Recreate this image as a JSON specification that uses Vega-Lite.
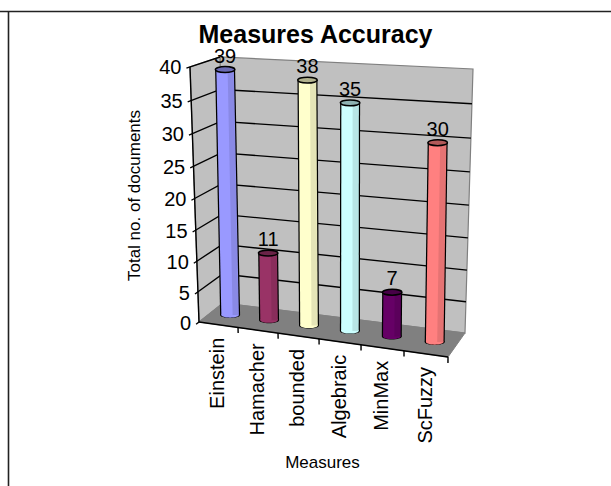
{
"$schema":"https://vega.github.io/schema/vega-lite/v6.json",
"width":611,"height":486,"padding":0,"autosize":{"type":"none"},"background":"white",
"config":{"view":{"stroke":null},"font":"Liberation Sans"},
"title":{"text":"Measures Accuracy","font":"Liberation Sans","fontSize":25,"fontWeight":"bold","color":"black","anchor":"middle","frame":"group","offset":-48,"dx":10},
"data":{"values":[
{"part":"bar","measure":"Einstein","value":39,"slot":0.5,"depth":0.5},
{"part":"bar","measure":"Hamacher","value":11,"slot":1.5,"depth":0.5},
{"part":"bar","measure":"bounded","value":38,"slot":2.5,"depth":0.5},
{"part":"bar","measure":"Algebraic","value":35,"slot":3.5,"depth":0.5},
{"part":"bar","measure":"MinMax","value":7,"slot":4.5,"depth":0.5},
{"part":"bar","measure":"ScFuzzy","value":30,"slot":5.5,"depth":0.5},
{"part":"category","measure":"Einstein","value":0,"slot":0.5,"depth":0},
{"part":"category","measure":"Hamacher","value":0,"slot":1.5,"depth":0},
{"part":"category","measure":"bounded","value":0,"slot":2.5,"depth":0},
{"part":"category","measure":"Algebraic","value":0,"slot":3.5,"depth":0},
{"part":"category","measure":"MinMax","value":0,"slot":4.5,"depth":0},
{"part":"category","measure":"ScFuzzy","value":0,"slot":5.5,"depth":0},
{"part":"back","seq":0,"slot":0,"value":0,"depth":1},{"part":"back","seq":1,"slot":6,"value":0,"depth":1},{"part":"back","seq":2,"slot":6,"value":40,"depth":1},{"part":"back","seq":3,"slot":0,"value":40,"depth":1},{"part":"back","seq":4,"slot":0,"value":0,"depth":1},
{"part":"side","seq":0,"slot":0,"value":0,"depth":1},{"part":"side","seq":1,"slot":0,"value":40,"depth":1},{"part":"side","seq":2,"slot":0,"value":40,"depth":0},{"part":"side","seq":3,"slot":0,"value":0,"depth":0},{"part":"side","seq":4,"slot":0,"value":0,"depth":1},
{"part":"floor","seq":0,"slot":0,"value":0,"depth":0},{"part":"floor","seq":1,"slot":6,"value":0,"depth":0},{"part":"floor","seq":2,"slot":6,"value":0,"depth":1},{"part":"floor","seq":3,"slot":0,"value":0,"depth":1},{"part":"floor","seq":4,"slot":0,"value":0,"depth":0},
{"part":"grid","seq":0,"slot":6,"value":5,"depth":1},{"part":"grid","seq":1,"slot":0,"value":5,"depth":1},{"part":"grid","seq":2,"slot":0,"value":5,"depth":-0.12},
{"part":"grid","seq":0,"slot":6,"value":10,"depth":1},{"part":"grid","seq":1,"slot":0,"value":10,"depth":1},{"part":"grid","seq":2,"slot":0,"value":10,"depth":-0.12},
{"part":"grid","seq":0,"slot":6,"value":15,"depth":1},{"part":"grid","seq":1,"slot":0,"value":15,"depth":1},{"part":"grid","seq":2,"slot":0,"value":15,"depth":-0.12},
{"part":"grid","seq":0,"slot":6,"value":20,"depth":1},{"part":"grid","seq":1,"slot":0,"value":20,"depth":1},{"part":"grid","seq":2,"slot":0,"value":20,"depth":-0.12},
{"part":"grid","seq":0,"slot":6,"value":25,"depth":1},{"part":"grid","seq":1,"slot":0,"value":25,"depth":1},{"part":"grid","seq":2,"slot":0,"value":25,"depth":-0.12},
{"part":"grid","seq":0,"slot":6,"value":30,"depth":1},{"part":"grid","seq":1,"slot":0,"value":30,"depth":1},{"part":"grid","seq":2,"slot":0,"value":30,"depth":-0.12},
{"part":"grid","seq":0,"slot":6,"value":35,"depth":1},{"part":"grid","seq":1,"slot":0,"value":35,"depth":1},{"part":"grid","seq":2,"slot":0,"value":35,"depth":-0.12},
{"part":"grid","seq":0,"slot":0,"value":40,"depth":1},{"part":"grid","seq":1,"slot":0,"value":40,"depth":-0.12},
{"part":"grid","seq":0,"slot":0,"value":0,"depth":0},{"part":"grid","seq":1,"slot":0,"value":0,"depth":-0.12},
{"part":"axis","seq":0,"slot":0,"value":0,"depth":0,"line":"y"},{"part":"axis","seq":1,"slot":0,"value":40,"depth":0,"line":"y"},
{"part":"axis","seq":0,"slot":0,"value":0,"depth":0,"line":"x"},{"part":"axis","seq":1,"slot":6,"value":0,"depth":0,"line":"x"},
{"part":"axis","seq":0,"slot":1,"value":0,"depth":0,"line":"t1"},{"part":"axis","seq":1,"slot":1,"value":-0.9,"depth":0,"line":"t1"},
{"part":"axis","seq":0,"slot":2,"value":0,"depth":0,"line":"t2"},{"part":"axis","seq":1,"slot":2,"value":-0.9,"depth":0,"line":"t2"},
{"part":"axis","seq":0,"slot":3,"value":0,"depth":0,"line":"t3"},{"part":"axis","seq":1,"slot":3,"value":-0.9,"depth":0,"line":"t3"},
{"part":"axis","seq":0,"slot":4,"value":0,"depth":0,"line":"t4"},{"part":"axis","seq":1,"slot":4,"value":-0.9,"depth":0,"line":"t4"},
{"part":"axis","seq":0,"slot":5,"value":0,"depth":0,"line":"t5"},{"part":"axis","seq":1,"slot":5,"value":-0.9,"depth":0,"line":"t5"},
{"part":"axis","seq":0,"slot":6,"value":0,"depth":0,"line":"t6"},{"part":"axis","seq":1,"slot":6,"value":-0.9,"depth":0,"line":"t6"},
{"part":"frame","slot":0,"value":0,"depth":0}
]},
"transform":[
{"calculate":"datum.slot/6","as":"u"},
{"calculate":"datum.u-0.072*datum.u*(1-datum.u)","as":"t"},
{"calculate":"datum.value/40","as":"w0"},
{"calculate":"datum.w0-0.0625*datum.w0*(1-datum.w0)","as":"w"},
{"calculate":"199+249*datum.t+(24-7*datum.t)*datum.depth","as":"bx"},
{"calculate":"322+35*datum.t+(-19-5*datum.t)*datum.depth","as":"by"},
{"calculate":"190+260*datum.t+(30-7*datum.t)*datum.depth","as":"tx"},
{"calculate":"67+10*datum.t+(-10+2*datum.t)*datum.depth","as":"ty"},
{"calculate":"datum.bx+(datum.tx-datum.bx)*datum.w","as":"sx"},
{"calculate":"datum.by+(datum.ty-datum.by)*datum.w","as":"sy"}
],
"encoding":{
"x":{"field":"sx","type":"quantitative","scale":{"domain":[0,611],"nice":false,"zero":false},
 "axis":{"title":"Measures","labels":false,"ticks":false,"domain":false,"grid":false,"titleFontSize":17,"titleFontWeight":"normal","titleColor":"black","titleFont":"Liberation Sans","titleX":322,"titleY":-24,"titleBaseline":"middle","titleAlign":"center","titleAnchor":null}},
"y":{"field":"sy","type":"quantitative","scale":{"domain":[486,0],"nice":false,"zero":false},
 "axis":{"title":"Total no. of documents","labels":false,"ticks":false,"domain":false,"grid":false,"titleFontSize":17,"titleFontWeight":"normal","titleColor":"black","titleFont":"Liberation Sans","titleX":134,"titleY":195,"titleAngle":270,"titleBaseline":"middle","titleAlign":"center","titleAnchor":null}}
},
"layer":[
{"transform":[{"filter":"datum.part=='frame'"}],"mark":{"type":"rule","color":"#222222","strokeWidth":1.6},"encoding":{"x":{"datum":0},"x2":{"datum":611},"y":{"datum":11.5}}},
{"transform":[{"filter":"datum.part=='frame'"}],"mark":{"type":"rule","color":"#222222","strokeWidth":1.6},"encoding":{"x":{"datum":8.5},"y":{"datum":11.5},"y2":{"datum":486}}},
{"transform":[{"filter":"datum.part=='back'||datum.part=='side'"}],"mark":{"type":"line","fill":"#c0c0c0","stroke":"#808080","strokeWidth":1.2},"encoding":{"detail":{"field":"part"},"order":{"field":"seq"}}},
{"transform":[{"filter":"datum.part=='floor'"}],"mark":{"type":"line","fill":"#808080","stroke":"#808080","strokeWidth":1},"encoding":{"order":{"field":"seq"}}},
{"transform":[{"filter":"datum.part=='grid'"}],"mark":{"type":"line","stroke":"#000000","strokeWidth":1.4},"encoding":{"detail":{"field":"value"},"order":{"field":"seq"}}},
{"transform":[{"filter":"datum.part=='axis'"}],"mark":{"type":"line","stroke":"#000000","strokeWidth":1.4},"encoding":{"detail":{"field":"line"},"order":{"field":"seq"}}},
{"transform":[{"filter":"datum.part=='grid'&&datum.depth<0"}],"mark":{"type":"text","align":"right","baseline":"middle","dx":-5,"fontSize":20,"color":"black"},"encoding":{"text":{"field":"value","type":"quantitative"}}},
{"transform":[{"filter":"datum.part=='category'"},{"calculate":"datum.sy+13","as":"ly"}],"mark":{"type":"text","align":"right","baseline":"middle","angle":270,"fontSize":20,"color":"black"},"encoding":{"text":{"field":"measure"},"y":{"field":"ly","type":"quantitative"}}},
{"transform":[{"filter":"datum.part=='bar'"},{"calculate":"datum.bx","as":"x0"},{"calculate":"datum.by","as":"y0"}],
 "layer":[
 {"mark":{"type":"point","shape":"M-1,0A1,0.3 0 1 1 1,0A1,0.3 0 1 1 -1,0Z","filled":true,"size":400,"opacity":1,"color":"#000000"},"encoding":{"x":{"field":"x0","type":"quantitative"},"y":{"field":"y0","type":"quantitative"}}},
 {"mark":{"type":"rule","strokeWidth":20,"color":"#000000"},"encoding":{"x2":{"field":"x0"},"y2":{"field":"y0"}}},
 {"mark":{"type":"point","shape":"M-1,0A1,0.3 0 1 1 1,0A1,0.3 0 1 1 -1,0Z","filled":true,"size":306,"opacity":1},"encoding":{"x":{"field":"x0","type":"quantitative"},"y":{"field":"y0","type":"quantitative"},"color":{"field":"measure","scale":{"domain":["Einstein","Hamacher","bounded","Algebraic","MinMax","ScFuzzy"],"range":["#9999ff","#993366","#ffffcc","#ccffff","#660066","#ff8080"]},"legend":null}}},
 {"mark":{"type":"rule","strokeWidth":17.5},"encoding":{"x2":{"field":"x0"},"y2":{"field":"y0"},"color":{"field":"measure","legend":null}}},
 {"mark":{"type":"rule","strokeWidth":6,"color":"black","opacity":0.1,"xOffset":5.5,"x2Offset":5.5},"encoding":{"x2":{"field":"x0"},"y2":{"field":"y0"}}},
 {"mark":{"type":"point","shape":"M-1,0A1,0.3 0 1 1 1,0A1,0.3 0 1 1 -1,0Z","filled":true,"size":380,"opacity":1,"stroke":"#000000","strokeWidth":1.5},"encoding":{"color":{"field":"measure","legend":null}}},
 {"mark":{"type":"point","shape":"M-1,0A1,0.3 0 1 1 1,0A1,0.3 0 1 1 -1,0Z","filled":true,"size":380,"opacity":0.3,"color":"black"}},
 {"mark":{"type":"text","dy":-13,"baseline":"middle","fontSize":20,"color":"black"},"encoding":{"text":{"field":"value","type":"quantitative"}}}
 ]}
]
}
